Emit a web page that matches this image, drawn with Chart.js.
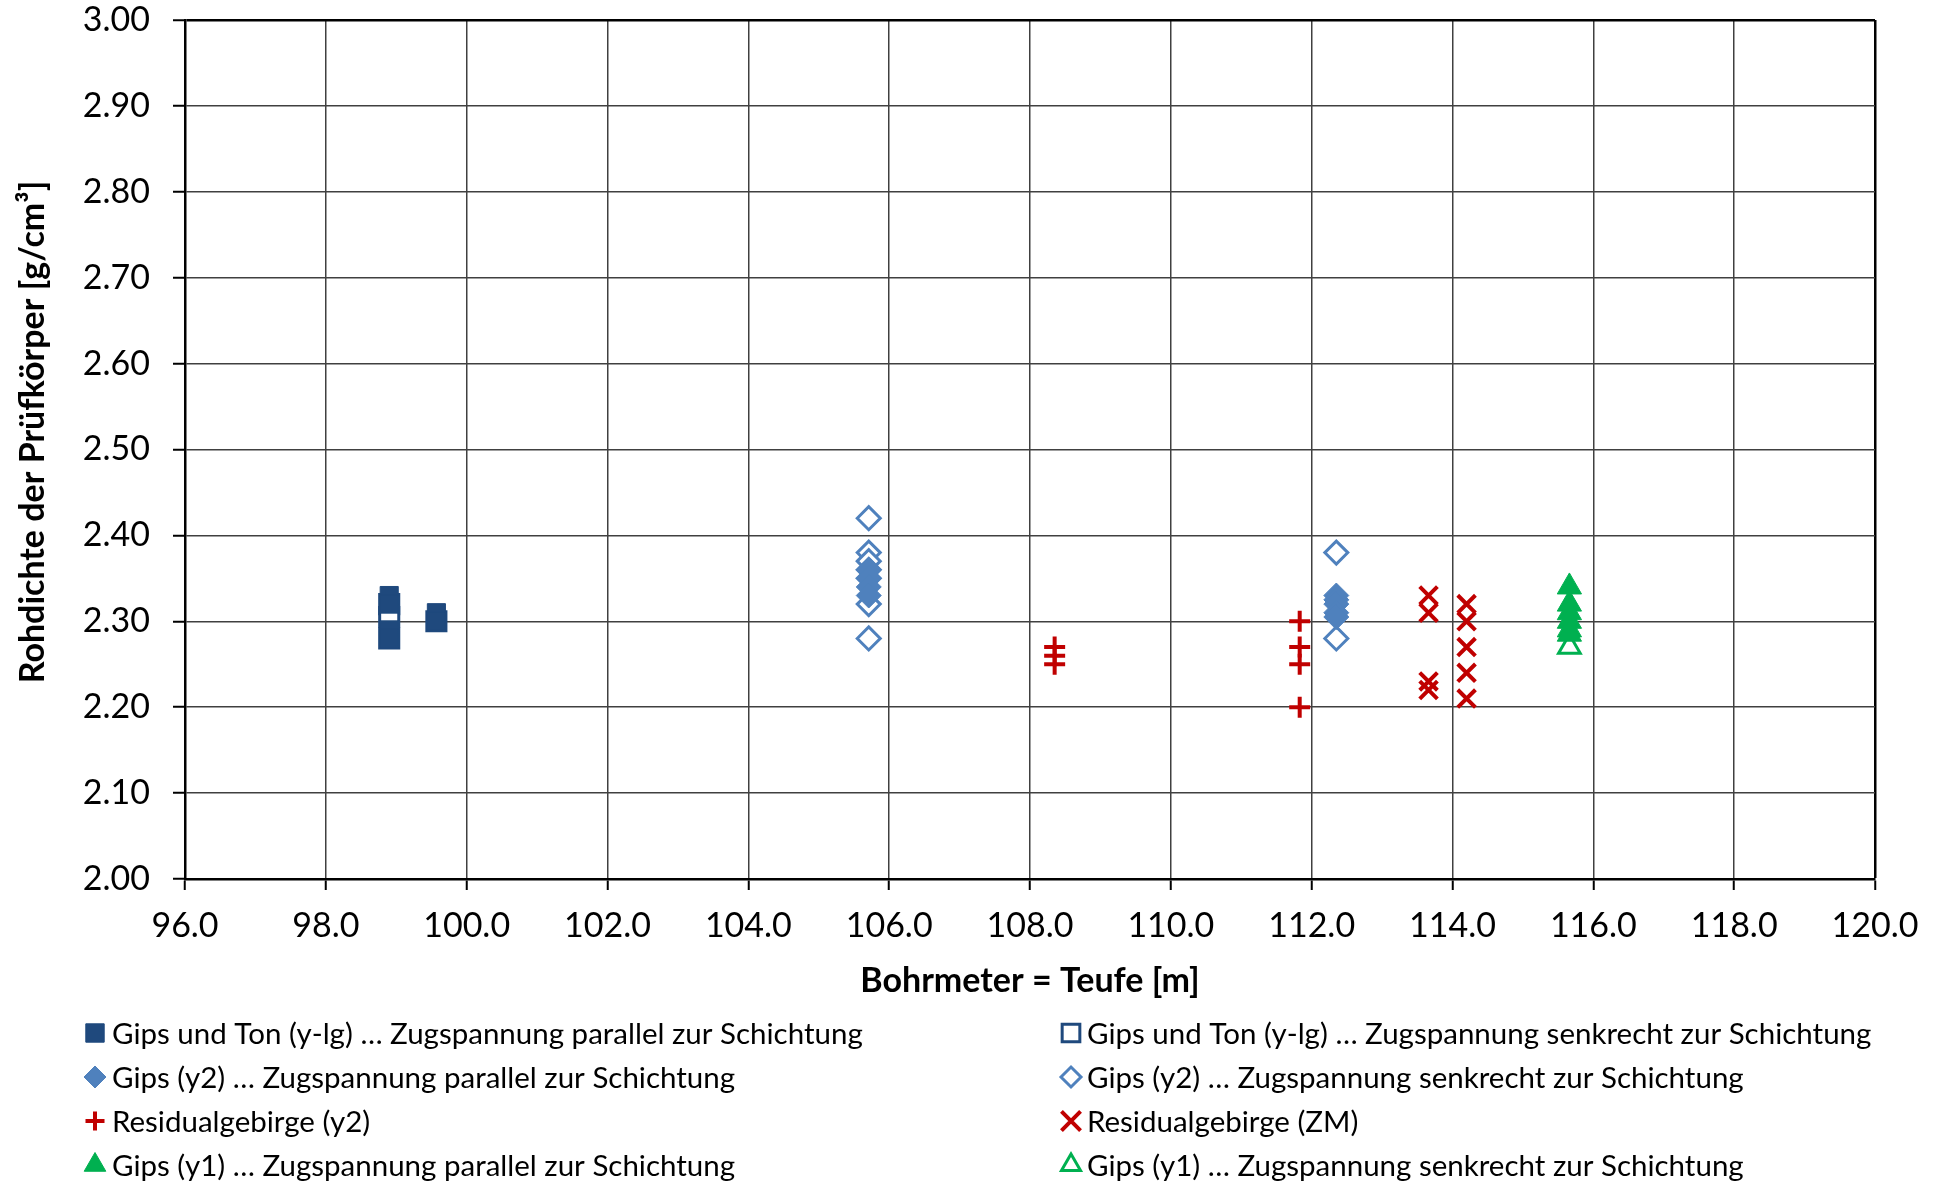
<!DOCTYPE html>
<html>
<head>
<meta charset="utf-8">
<title>Rohdichte der Prüfkörper</title>
<script src="https://cdn.jsdelivr.net/npm/chart.js@4.4.1/dist/chart.umd.min.js"></script>
<style>
  html, body { margin: 0; padding: 0; background: #ffffff; }
  #wrap { width: 1944px; height: 1182px; }
</style>
</head>
<body>
<div id="wrap"><canvas id="chart" width="1944" height="1182"></canvas></div>
<script>
// Axis ticks
const depthTicks = [96, 98, 100, 102, 104, 106, 108, 110, 112, 114, 116, 118, 120];
const densityTicks = [2.0, 2.1, 2.2, 2.3, 2.4, 2.5, 2.6, 2.7, 2.8, 2.9, 3.0];

// Gips und Ton (y-lg), parallel / senkrecht
const gipsTonParX = [98.9, 98.9, 98.9, 98.9, 99.57, 99.57];
const gipsTonParY = [2.33, 2.32, 2.29, 2.28, 2.31, 2.30];
const gipsTonSenX = [98.9, 98.9, 98.9, 99.57];
const gipsTonSenY = [2.32, 2.305, 2.28, 2.30];

// Gips (y2), parallel / senkrecht
const gipsY2ParX = [105.71, 105.71, 105.71, 105.71, 112.35, 112.35, 112.35, 112.35, 112.35];
const gipsY2ParY = [2.36, 2.35, 2.34, 2.33, 2.33, 2.325, 2.32, 2.31, 2.305];
const gipsY2SenX = [105.71, 105.71, 105.71, 105.71, 105.71, 105.71, 105.71, 112.35, 112.35];
const gipsY2SenY = [2.42, 2.38, 2.37, 2.36, 2.35, 2.32, 2.28, 2.38, 2.28];

// Residualgebirge (y2) / (ZM)
const residY2X = [108.35, 108.35, 108.35, 111.83, 111.83, 111.83, 111.83];
const residY2Y = [2.27, 2.26, 2.25, 2.30, 2.27, 2.25, 2.20];
const residZMX = [113.66, 113.66, 113.66, 113.66, 114.2, 114.2, 114.2, 114.2, 114.2];
const residZMY = [2.33, 2.31, 2.23, 2.22, 2.32, 2.30, 2.27, 2.24, 2.21];

// Gips (y1), parallel / senkrecht
const gipsY1ParX = [115.66, 115.66, 115.66, 115.66, 115.66, 115.66];
const gipsY1ParY = [2.34, 2.32, 2.31, 2.30, 2.29, 2.285];
const gipsY1SenX = [115.66];
const gipsY1SenY = [2.27];

const NAVY = '#1F497D', BLUE = '#4F81BD', RED = '#C00000', GREEN = '#00B050';
const FONT = 'Lato, "Open Sans", sans-serif';

function pts(xs, ys) { return xs.map((x, i) => ({ x: x, y: ys[i] })); }

function series(label, xs, ys, style, color, filled, radius, legendRadius, order) {
  const isLine = style === 'cross' || style === 'crossRot';
  const bw = isLine ? 4 : (filled ? 1 : 3);
  return {
    label: label,
    data: pts(xs, ys),
    pointStyle: style,
    pointRadius: radius,
    pointHoverRadius: radius,
    backgroundColor: filled ? color : '#ffffff',
    borderColor: color,
    pointBorderWidth: bw,
    pointHoverBorderWidth: bw,
    showLine: false,
    legendRadius: legendRadius,
    order: order
  };
}

// Filled markers (order 1) are painted over the open ones (order 2)
const datasets = [
  series('Gips und Ton (y-lg) … Zugspannung parallel zur Schichtung', gipsTonParX, gipsTonParY, 'rect', NAVY, true, 12.8, 13, 1),
  series('Gips und Ton (y-lg) … Zugspannung senkrecht zur Schichtung', gipsTonSenX, gipsTonSenY, 'rect', NAVY, false, 13.5, 12.5, 2),
  series('Gips (y2) … Zugspannung parallel zur Schichtung', gipsY2ParX, gipsY2ParY, 'rectRot', BLUE, true, 12.5, 11, 1),
  series('Gips (y2) … Zugspannung senkrecht zur Schichtung', gipsY2SenX, gipsY2SenY, 'rectRot', BLUE, false, 11.5, 10, 2),
  series('Residualgebirge (y2)', residY2X, residY2Y, 'cross', RED, true, 10.5, 9.5, 1),
  series('Residualgebirge (ZM)', residZMX, residZMY, 'crossRot', RED, true, 12.5, 13.5, 1),
  series('Gips (y1) … Zugspannung parallel zur Schichtung', gipsY1ParX, gipsY1ParY, 'triangle', GREEN, true, 14, 12.5, 1),
  series('Gips (y1) … Zugspannung senkrecht zur Schichtung', gipsY1SenX, gipsY1SenY, 'triangle', GREEN, false, 12.5, 11, 2)
];

// Axis titles and the two-column legend below the plot
const annotations = {
  id: 'annotations',
  afterDraw(chart) {
    const ctx = chart.ctx;
    ctx.save();
    ctx.fillStyle = '#000';
    ctx.textBaseline = 'middle';
    ctx.textAlign = 'center';
    ctx.font = 'bold 34px ' + FONT;
    ctx.fillText('Bohrmeter = Teufe [m]', 1030, 981);
    ctx.save();
    ctx.translate(33, 432);
    ctx.rotate(-Math.PI / 2);
    ctx.fillText('Rohdichte der Prüfkörper [g/cm³]', 0, 0);
    ctx.restore();

    const cols = [{ mx: 95, tx: 112 }, { mx: 1071, tx: 1087 }];
    const rows = [1033, 1077, 1121, 1165];
    ctx.font = '29.5px ' + FONT;
    ctx.textAlign = 'left';
    chart.data.datasets.forEach((ds, i) => {
      const c = cols[i % 2], y = rows[Math.floor(i / 2)];
      ctx.fillStyle = ds.backgroundColor;
      ctx.strokeStyle = ds.borderColor;
      ctx.lineWidth = ds.pointBorderWidth;
      Chart.helpers.drawPoint(ctx, {
        pointStyle: ds.pointStyle,
        radius: ds.legendRadius,
        rotation: 0,
        borderWidth: ds.pointBorderWidth
      }, c.mx, y);
      ctx.fillStyle = '#000';
      ctx.fillText(ds.label, c.tx, y + 1);
    });
    ctx.restore();
  }
};

const edgeWidth = (last) => (ctx) => (ctx.index === last ? 2.5 : 1.5);
const edgeColor = (last) => (ctx) => (ctx.index === last ? '#000000' : '#404040');

new Chart(document.getElementById('chart'), {
  type: 'scatter',
  data: { datasets: datasets },
  plugins: [annotations],
  options: {
    responsive: false,
    animation: false,
    devicePixelRatio: 1,
    layout: { padding: { left: 0, top: 20, right: 69, bottom: 203 } },
    plugins: { legend: { display: false }, tooltip: { enabled: false } },
    scales: {
      x: {
        type: 'linear',
        min: 96, max: 120,
        afterBuildTicks: (s) => { s.ticks = depthTicks.map(v => ({ value: v })); },
        afterFit: (s) => { s.height = 100; },
        ticks: {
          color: '#000', padding: 16, maxRotation: 0, autoSkip: false,
          font: { family: FONT, size: 34 },
          callback: (v) => Number(v).toFixed(1)
        },
        grid: {
          color: edgeColor(depthTicks.length - 1),
          lineWidth: edgeWidth(depthTicks.length - 1),
          tickColor: '#000', tickLength: 11, tickWidth: 2
        },
        border: { color: '#000', width: 2.5 }
      },
      y: {
        type: 'linear',
        min: 2.0, max: 3.0,
        afterBuildTicks: (s) => { s.ticks = densityTicks.map(v => ({ value: v })); },
        afterFit: (s) => { s.width = 185; s.paddingTop = 20; s.paddingBottom = 0; },
        ticks: {
          color: '#000', padding: 23, autoSkip: false,
          font: { family: FONT, size: 34 },
          callback: (v) => Number(v).toFixed(2)
        },
        grid: {
          color: edgeColor(densityTicks.length - 1),
          lineWidth: edgeWidth(densityTicks.length - 1),
          tickColor: '#000', tickLength: 12, tickWidth: 2
        },
        border: { color: '#000', width: 2.5 }
      }
    }
  }
});
</script>
</body>
</html>
